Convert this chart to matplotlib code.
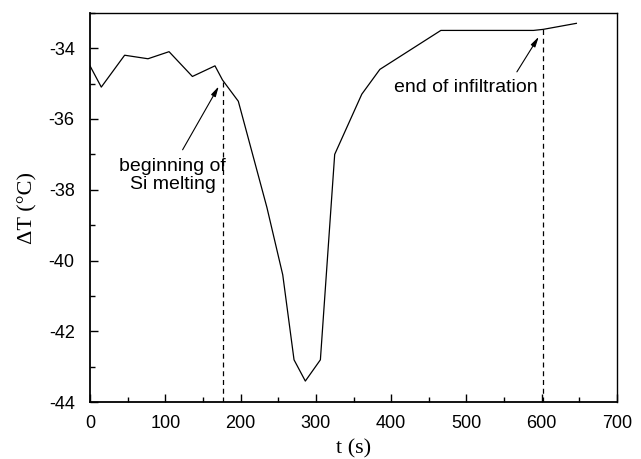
import matplotlib
matplotlib.use("Agg")
import matplotlib.pyplot as plt
from matplotlib.ticker import MultipleLocator

# Temperature difference during Si infiltration
t_s = [0, 15, 46, 77, 105, 136, 166, 176, 197, 235, 256, 271, 286, 306, 325, 361, 385, 466, 589, 602, 646]
delta_t = [-34.5, -35.1, -34.2, -34.3, -34.1, -34.8, -34.5, -34.9, -35.5, -38.5, -40.4,
           -42.8, -43.4, -42.8, -37.0, -35.3, -34.6, -33.5, -33.5, -33.47, -33.3]

# Event markers (time, temperature on curve)
event_t = [176, 602]
event_dt = [-34.9, -33.47]

x_ticks = [0, 100, 200, 300, 400, 500, 600, 700]
y_ticks = [-44, -42, -40, -38, -36, -34]

fig = plt.figure(figsize=(6.41, 4.59), dpi=100)
ax = fig.add_axes([0.1404, 0.1235, 0.8222, 0.8488])

ax.plot(t_s, delta_t, color="black", linewidth=0.9)

for et, ed in zip(event_t, event_dt):
    ax.plot([et, et], [-44, ed], color="black", linewidth=0.9, linestyle=(0, (4, 3)))

sans = "Liberation Sans"
arrow = dict(arrowstyle="-|>,head_length=0.6,head_width=0.15",
             color="black", lw=0.8, shrinkA=0, shrinkB=0)

ax.text(110, -37.6, "beginning of\nSi melting", ha="center", va="center",
        fontsize=14, family=sans, linespacing=1.1)
ax.annotate("", xy=(171, -35.08), xytext=(123, -36.87), arrowprops=arrow)

ax.text(499, -35.1, "end of infiltration", ha="center", va="center",
        fontsize=14, family=sans)
ax.annotate("", xy=(596, -33.68), xytext=(567, -34.67), arrowprops=arrow)

ax.set_xlim(0, 700)
ax.set_ylim(-44, -33)
ax.set_xticks(x_ticks)
ax.set_yticks(y_ticks)
ax.set_xticklabels([str(v) for v in x_ticks], family=sans, fontsize=13)
ax.set_yticklabels([str(v) for v in y_ticks], family=sans, fontsize=13)
ax.xaxis.set_minor_locator(MultipleLocator(50))
ax.yaxis.set_minor_locator(MultipleLocator(1))
ax.tick_params(which="major", direction="in", length=6, width=1)
ax.tick_params(axis="x", which="major", pad=9)
ax.tick_params(axis="y", which="major", pad=11)
ax.tick_params(which="minor", direction="in", length=3.5, width=1)
ax.tick_params(top=False, right=False, which="both")

for side in ["left", "bottom"]:
    ax.spines[side].set_linewidth(1.3)
for side in ["top", "right"]:
    ax.spines[side].set_linewidth(1.0)

ax.set_xlabel("t (s)", family="Liberation Serif", fontsize=16, labelpad=5)
ax.set_ylabel("ΔT (°C)", family="Liberation Serif", fontsize=16, labelpad=8)

fig.savefig("out.png", dpi=100)
